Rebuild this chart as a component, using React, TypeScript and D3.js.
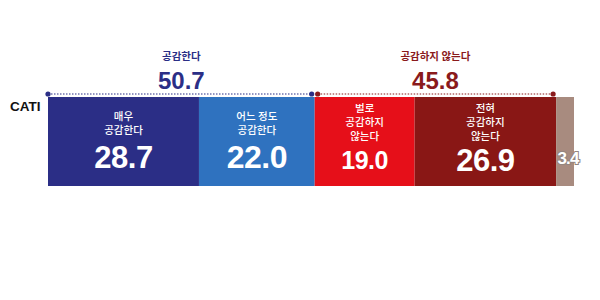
import React from "react";
import * as d3 from "d3";

const categories = ["매우\n공감한다", "어느 정도\n공감한다", "벌로\n공감하지\n않는다", "전혀\n공감하지\n않는다", ""];
const values = [28.7, 22.0, 19.0, 26.9, 3.4];
const colors = ["#2b2e86", "#2f72bf", "#e60f19", "#891715", "#a88b7f"];
const valueSizes = [31, 32, 25, 31, 17];
const groupLabels = ["공감한다", "공감하지 않는다"];
const groupValues = [50.7, 45.8];
const groupRanges = [[0, 2], [2, 4]];
const groupColors = ["#2b2e86", "#8a1a1c"];
const rowLabel = "CATI";

const FONT = "'Noto Sans CJK KR', 'Noto Sans', sans-serif";

export default function App() {
  const W = 600, H = 300;
  const x = d3.scaleLinear().domain([0, 100]).range([48, 574]);
  const barTop = 97, barBottom = 186;
  const starts = values.map((_, i) => d3.sum(values.slice(0, i)));
  const lineY = 94;

  return (
    <svg width={W} height={H} style={{ position: "absolute", left: 0, top: 0, background: "#fff" }} fontFamily={FONT}>
      <text x={10} y={107} fontSize={13.5} fontWeight={900} fill="#111" dominantBaseline="middle"
        fontFamily="'Liberation Sans', Arial, sans-serif">{rowLabel}</text>
      {values.map((v, i) => {
        const x0 = x(starts[i]);
        const x1 = x(starts[i] + v);
        const cx = (x0 + x1) / 2;
        const lines = categories[i] ? categories[i].split("\n") : [];
        const step = lines.length === 3 ? 14 : 14.5;
        const labelStart = lines.length === 3 ? 109.5 : 117;
        const valY = lines.length === 3 ? 160 : 157;
        return (
          <g key={i}>
            <rect x={x0} y={barTop} width={x1 - x0} height={barBottom - barTop} fill={colors[i]} />
            {lines.map((l, j) => (
              <text key={j} x={cx} y={labelStart + j * step} fontSize={10.5} fontWeight={500} fill="#fff"
                textAnchor="middle" dominantBaseline="middle">{l}</text>
            ))}
            {lines.length > 0 ? (
              <text x={cx} y={valY} fontSize={valueSizes[i]} fontWeight={800} fill="#fff" textAnchor="middle"
                dominantBaseline="central" fontFamily="'Liberation Sans', Arial, sans-serif" letterSpacing={-0.5}>{v.toFixed(1)}</text>
            ) : (
              <text x={568} y={158} fontSize={valueSizes[i]} fontWeight={800} fill="#fff" stroke="#948680"
                strokeWidth={2} paintOrder="stroke" textAnchor="middle" dominantBaseline="central" letterSpacing={-0.8}
                fontFamily="'Liberation Sans', Arial, sans-serif">{v.toFixed(1)}</text>
            )}
          </g>
        );
      })}
      {groupRanges.map((r, gi) => {
        const x0 = x(starts[r[0]]) + (gi === 1 ? 3 : 0);
        const x1 = x(starts[r[1] - 1] + values[r[1] - 1]) - 3;
        const cx = (x(starts[r[0]]) + x(starts[r[1] - 1] + values[r[1] - 1])) / 2;
        return (
          <g key={gi}>
            <line x1={x0} x2={x1} y1={lineY} y2={lineY} stroke={groupColors[gi]} strokeWidth={1.2} strokeDasharray="1.5,1.5" />
            <circle cx={x0} cy={lineY} r={2.6} fill={groupColors[gi]} />
            <circle cx={x1} cy={lineY} r={2.6} fill={groupColors[gi]} />
            <text x={cx} y={57} fontSize={10.5} fontWeight={700} fill={groupColors[gi]} textAnchor="middle" dominantBaseline="middle">{groupLabels[gi]}</text>
            <text x={cx} y={80} fontSize={24} fontWeight={800} fill={groupColors[gi]} textAnchor="middle" dominantBaseline="central"
              fontFamily="'Liberation Sans', Arial, sans-serif">{groupValues[gi].toFixed(1)}</text>
          </g>
        );
      })}
    </svg>
  );
}
